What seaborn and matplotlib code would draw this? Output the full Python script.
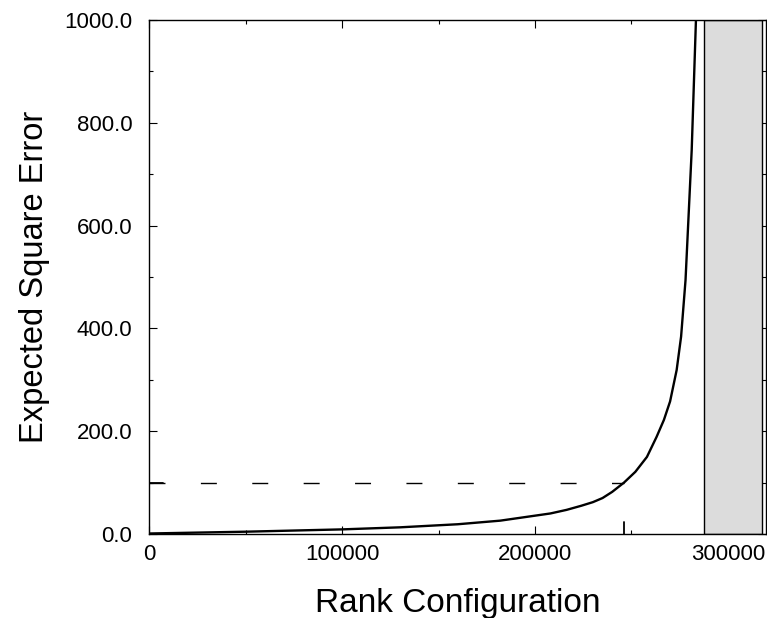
import matplotlib
matplotlib.use("Agg")
import matplotlib.pyplot as plt
import seaborn as sns
import numpy as np
import pandas as pd
from matplotlib.ticker import MultipleLocator, FormatStrFormatter

# Data
rank = [0, 50000, 100000, 130000, 160000, 182000, 195000, 208000, 216400,
        224000, 230000, 235000, 240000, 246100, 252000, 258000, 263000, 266800,
        270000, 273400, 275700, 278000, 281200, 283400, 284500]
error = [1, 4.5, 9, 13, 19, 26, 33, 40, 47,
         55, 62, 70, 82, 100, 121, 150, 189, 222,
         258, 319, 384, 494, 747, 1000, 1150]
threshold = 100
threshold_rank = 246100
infeasible_start = 287600
infeasible_end = 317800
x_max = 319700
y_max = 1000

sns.set_style("ticks")
plt.rcParams['font.family'] = ['Liberation Sans', 'DejaVu Sans']

fig = plt.figure(figsize=(7.67, 6.18), dpi=100)
ax = fig.add_axes([0.1943, 0.1359, 0.8044, 0.8317])

ax.axvspan(infeasible_start, infeasible_end, facecolor='#dcdcdc',
           edgecolor='black', linewidth=1.0, zorder=1)

df = pd.DataFrame({'rank': rank, 'error': error})
sns.lineplot(data=df, x='rank', y='error', ax=ax, color='black',
             linewidth=1.7, zorder=3)

ax.plot([0, threshold_rank], [threshold, threshold], color='black',
        linewidth=1.0, dashes=(11.5, 25.5), zorder=2)
ax.axvline(threshold_rank, ymin=0, ymax=12 / 514, color='black', linewidth=1.3)
ax.axhline(threshold, xmin=0, xmax=14 / 617, color='black', linewidth=1.3)

ax.set_xlim(0, x_max)
ax.set_ylim(0, y_max)
ax.xaxis.set_major_locator(MultipleLocator(100000))
ax.xaxis.set_minor_locator(MultipleLocator(50000))
ax.yaxis.set_major_locator(MultipleLocator(200))
ax.yaxis.set_minor_locator(MultipleLocator(100))
ax.yaxis.set_major_formatter(FormatStrFormatter('%.1f'))

ax.tick_params(which='both', direction='in', top=True, right=True,
               color='black', width=0.8, labelsize=16, labelcolor='black')
ax.tick_params(which='major', length=6)
ax.tick_params(axis='y', which='major', pad=12)
ax.tick_params(axis='x', which='major', pad=7)
ax.tick_params(which='minor', length=3)

for s in ax.spines.values():
    s.set_color('black')
    s.set_linewidth(1.0)

ax.set_xlabel('Rank Configuration', fontsize=24, labelpad=17, color='black')
ax.set_ylabel('Expected Square Error', fontsize=23.5, labelpad=10, color='black')

fig.savefig('out.png', dpi=100)
